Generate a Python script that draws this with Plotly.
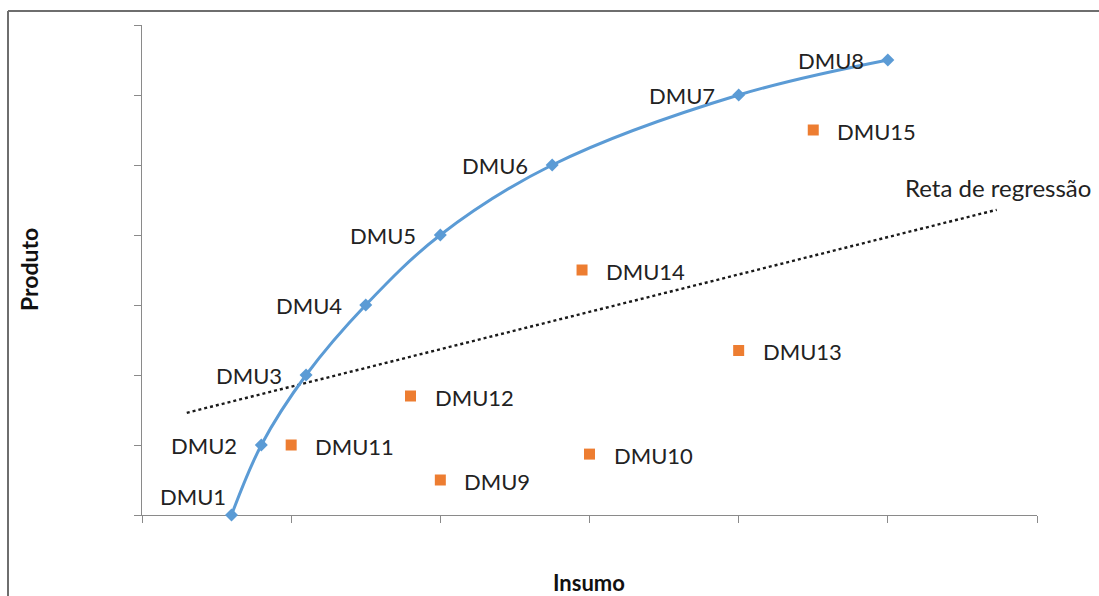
import plotly.graph_objects as go

# Frontier DMUs (efficient)
frontier_names = ["DMU1", "DMU2", "DMU3", "DMU4", "DMU5", "DMU6", "DMU7", "DMU8"]
frontier_x = [0.6, 0.8, 1.1, 1.5, 2.0, 2.75, 4.0, 5.0]
frontier_y = [0.0, 1.0, 2.0, 3.0, 4.0, 5.0, 6.0, 6.5]

# Other DMUs (inefficient)
other_names = ["DMU9", "DMU10", "DMU11", "DMU12", "DMU13", "DMU14", "DMU15"]
other_x = [2.0, 3.0, 1.0, 1.8, 4.0, 2.95, 4.5]
other_y = [0.5, 0.87, 1.0, 1.7, 2.35, 3.5, 5.5]

# Regression line end points
reg_x = [0.30, 5.73]
reg_y = [1.46, 4.36]
reg_label = "Reta de regressão"

x_title = "Insumo"
y_title = "Produto"

FONT = "Lato"
TXT = "#222222"
AX = "#8a8a8a"

W, H = 1099, 596
L, R, T, B = 142, 62, 25, 81
pw, ph = W - L - R, H - T - B

def px_x(p):
    return (p - L) / pw

def px_y(p):
    return (H - B - p) / ph

fig = go.Figure()

fig.add_trace(go.Scatter(
    x=reg_x, y=reg_y, mode="lines",
    line=dict(color="#1a1a1a", width=2.4, dash="dot"),
    hoverinfo="skip", showlegend=False))

fig.add_trace(go.Scatter(
    x=frontier_x, y=frontier_y, mode="lines+markers", cliponaxis=False,
    line=dict(color="#5B9BD5", width=3, shape="spline", smoothing=1.0),
    marker=dict(symbol="diamond", size=10, color="#5B9BD5"),
    showlegend=False))

fig.add_trace(go.Scatter(
    x=other_x, y=other_y, mode="markers", cliponaxis=False,
    marker=dict(symbol="square", size=11, color="#ED7D31"),
    showlegend=False))

LBL = dict(family=FONT, size=22, color=TXT)
annotations = []
for i, (n, x, y) in enumerate(zip(frontier_names, frontier_x, frontier_y)):
    if i == 0:
        annotations.append(dict(x=x, y=y, text=n, showarrow=False, xanchor="right",
                                yanchor="middle", xshift=-4, yshift=19, font=LBL))
    else:
        annotations.append(dict(x=x, y=y, text=n, showarrow=False, xanchor="right",
                                yanchor="middle", xshift=-22, yshift=0, font=LBL))
for n, x, y in zip(other_names, other_x, other_y):
    annotations.append(dict(x=x, y=y, text=n, showarrow=False, xanchor="left",
                            yanchor="middle", xshift=22, yshift=-1, font=LBL))

annotations.append(dict(x=reg_x[-1], y=reg_y[-1], text=reg_label, showarrow=False,
                        xanchor="right", yanchor="middle", xshift=96, yshift=22,
                        font=dict(family=FONT, size=24, color=TXT)))

annotations.append(dict(xref="paper", yref="paper", x=px_x(589), y=px_y(582),
                        text="<b>%s</b>" % x_title, showarrow=False,
                        xanchor="center", yanchor="middle",
                        font=dict(family=FONT, size=22, color="#111111")))
annotations.append(dict(xref="paper", yref="paper", x=px_x(29), y=px_y(270),
                        text="<b>%s</b>" % y_title, showarrow=False, textangle=-90,
                        xanchor="center", yanchor="middle",
                        font=dict(family=FONT, size=23, color="#111111")))

shapes = [
    dict(type="line", xref="paper", yref="paper",
         x0=px_x(8), x1=px_x(1105), y0=px_y(11), y1=px_y(11),
         line=dict(color="#6e6e6e", width=2)),
    dict(type="line", xref="paper", yref="paper",
         x0=px_x(8), x1=px_x(8), y0=px_y(11), y1=px_y(600),
         line=dict(color="#6e6e6e", width=2)),
]

fig.update_layout(
    width=W, height=H,
    margin=dict(l=L, r=R, t=T, b=B),
    paper_bgcolor="white", plot_bgcolor="white",
    annotations=annotations, shapes=shapes,
    xaxis=dict(range=[0, 6], tickvals=[0, 1, 2, 3, 4, 5, 6], showticklabels=False,
               ticks="outside", ticklen=7, tickcolor=AX, showgrid=False, zeroline=False,
               showline=True, linecolor=AX, linewidth=1.3, mirror=False, fixedrange=True,
               layer="below traces"),
    yaxis=dict(range=[0, 7], tickvals=[0, 1, 2, 3, 4, 5, 6, 7], showticklabels=False,
               ticks="outside", ticklen=7, tickcolor=AX, showgrid=False, zeroline=False,
               showline=True, linecolor=AX, linewidth=1.3, mirror=False, fixedrange=True,
               layer="below traces"),
    showlegend=False,
)

fig.write_html("out.html", config={"displayModeBar": False},
               post_script="document.body.style.margin='0px';document.body.style.overflow='hidden';")
